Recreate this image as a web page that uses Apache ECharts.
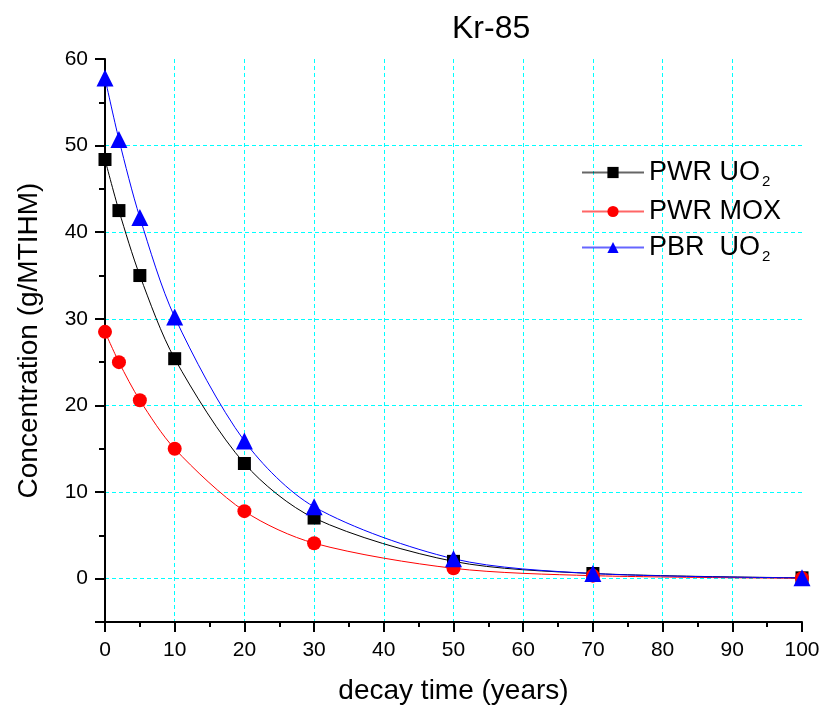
<!DOCTYPE html>
<html><head><meta charset="utf-8">
<script src="https://cdn.jsdelivr.net/npm/echarts@6/dist/echarts.min.js"></script>
<style>html,body{margin:0;padding:0;background:#fff}#c{width:824px;height:710px}</style>
</head><body><div id="c"></div>
<script>
const decayYears = [0, 2, 5, 10, 20, 30, 50, 70, 100];
const pwrUO2 = [48.4, 42.5, 35.0, 25.4, 13.3, 7.0, 2.0, 0.6, 0.1];
const pwrMOX = [28.5, 25.0, 20.6, 15.0, 7.8, 4.1, 1.2, 0.35, 0.05];
const pbrUO2 = [57.8, 50.7, 41.7, 30.2, 15.9, 8.3, 2.3, 0.6, 0.1];
const seriesNames = ['PWR UO2', 'PWR MOX', 'PBR  UO2'];
const legendLabels = ['{a|PWR UO}{s|2}', '{a|PWR MOX}', '{a|PBR  UO}{s|2}'];

const font = 'Liberation Sans, Arial, sans-serif';
const pairs = arr => decayYears.map((x, i) => [x, arr[i]]);
const chart = echarts.init(document.getElementById('c'));
const axisLine = {show: true, onZero: false, lineStyle: {color: '#000', width: 2}};
const gridLine = {show: true, showMinLine: false, showMaxLine: false, lineStyle: {color: '#00ffff', type: [4, 3], width: 1}};
chart.setOption({
  animation: false,
  title: {text: 'Kr-85', left: 447, top: 8, textStyle: {fontFamily: font, fontSize: 32, fontWeight: 'normal', color: '#000'}},
  grid: {left: 105, right: 22, top: 59, bottom: 87},
  legend: {
    orient: 'vertical', left: 576, top: 154, itemWidth: 62, itemHeight: 14, itemGap: 9,
    data: seriesNames,
    formatter: n => legendLabels[seriesNames.indexOf(n)],
    lineStyle: {opacity: 0.6},
    textStyle: {fontFamily: font, color: '#000', rich: {
      a: {fontFamily: font, fontSize: 27, color: '#000'},
      s: {fontFamily: font, fontSize: 15, color: '#000', padding: [18, 0, 0, 2]}
    }}
  },
  xAxis: {
    type: 'value', min: 0, max: 100, interval: 10,
    name: 'decay time (years)', nameLocation: 'middle', nameGap: 55,
    nameTextStyle: {fontFamily: font, fontSize: 28, color: '#000'},
    axisLine: axisLine,
    axisTick: {show: true, length: 10, lineStyle: {color: '#000', width: 2}},
    minorTick: {show: true, splitNumber: 2, length: 5, lineStyle: {color: '#000', width: 2}},
    axisLabel: {fontFamily: font, fontSize: 21, color: '#000', margin: 18},
    splitLine: gridLine
  },
  yAxis: [{
    type: 'value', min: -5, max: 60, splitNumber: 7, position: 'left',
    name: 'Concentration (g/MTIHM)', nameLocation: 'middle', nameGap: 62,
    nameTextStyle: {fontFamily: font, fontSize: 28, color: '#000'},
    axisLine: axisLine,
    axisTick: {show: true, length: 10, lineStyle: {color: '#000', width: 2}},
    axisLabel: {fontFamily: font, fontSize: 21, color: '#000', margin: 17, formatter: v => (v % 10 === 0 ? v : '')},
    splitLine: gridLine
  }, {
    type: 'value', min: -5, max: 60, interval: 10, position: 'left',
    axisLine: {show: false},
    axisTick: {show: true, length: 6, lineStyle: {color: '#000', width: 2}},
    axisLabel: {show: false},
    splitLine: {show: false}
  }],
  series: [
    {name: seriesNames[0], type: 'line', data: pairs(pwrUO2), smooth: 0.3, symbol: 'rect', symbolSize: 13,
     itemStyle: {color: '#000'}, lineStyle: {color: '#000', width: 1}, z: 3},
    {name: seriesNames[1], type: 'line', data: pairs(pwrMOX), smooth: 0.3, symbol: 'circle', symbolSize: 14,
     itemStyle: {color: '#ff0000'}, lineStyle: {color: '#ff0000', width: 1}, z: 3},
    {name: seriesNames[2], type: 'line', data: pairs(pbrUO2), smooth: 0.3, symbol: 'triangle', symbolSize: 17,
     itemStyle: {color: '#0000ff'}, lineStyle: {color: '#0000ff', width: 1}, z: 3}
  ]
});
</script></body></html>
